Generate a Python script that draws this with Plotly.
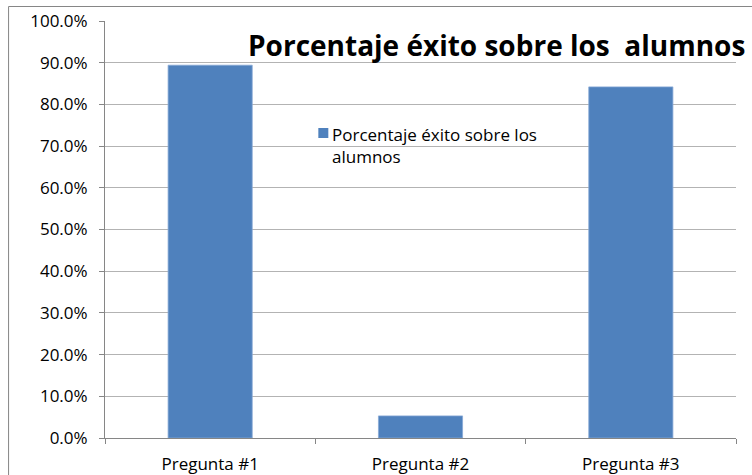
import plotly.graph_objects as go

categories = ["Pregunta #1", "Pregunta #2", "Pregunta #3"]
values = [0.894, 0.053, 0.842]
series_name = "Porcentaje éxito sobre los alumnos"
legend_label = "Porcentaje éxito sobre los<br>alumnos"
title_text = "Porcentaje éxito sobre los  alumnos"

FONT = "Open Sans"
BAR = "#4F81BD"
BAR_EDGE = "#86A8D6"
GRID = "#B3B3B3"
AXIS = "#868686"

fig = go.Figure()
fig.add_trace(go.Bar(
    x=categories, y=values, name=series_name,
    marker=dict(color=BAR, line=dict(width=0.8, color=BAR_EDGE)),
    width=0.4, showlegend=False,
))

W, H = 752, 475
l, r, t, b = 104.5, 16, 21, 37
pw, ph = W - l - r, H - t - b

def px(x):
    return (x - l) / pw

def py(y):
    return (H - b - y) / ph

fig.update_layout(
    width=W, height=H,
    margin=dict(l=l, r=r, t=t, b=b, pad=0, autoexpand=False),
    paper_bgcolor="white", plot_bgcolor="white",
    font=dict(family=FONT, size=17, color="black"),
    showlegend=False,
    xaxis=dict(
        showgrid=False, showline=True, linecolor=AXIS, linewidth=1,
        ticks="outside", ticklen=5, tickcolor=AXIS, tickson="boundaries",
        tickfont=dict(family=FONT, size=17), ticklabelstandoff=11,
        automargin=False,
    ),
    yaxis=dict(
        range=[0, 1], dtick=0.1, tickformat=".1%",
        showgrid=True, gridcolor=GRID, gridwidth=1,
        showline=True, linecolor=AXIS, linewidth=1,
        ticks="outside", ticklen=5, tickcolor=AXIS,
        tickfont=dict(family=FONT, size=17), ticklabelstandoff=8,
        zeroline=False, automargin=False,
    ),
    annotations=[
        dict(
            text="<b>" + title_text + "</b>",
            xref="paper", yref="paper", x=px(747), y=py(45),
            xanchor="right", yanchor="middle", showarrow=False,
            font=dict(family=FONT, size=28, color="black"),
        ),
        dict(
            text=legend_label, align="left",
            xref="paper", yref="paper", x=px(330), y=py(121),
            xanchor="left", yanchor="top", showarrow=False,
            font=dict(family=FONT, size=17, color="black"),
        ),
    ],
    shapes=[
        dict(type="rect", xref="paper", yref="paper",
             x0=px(318), x1=px(328), y0=py(128), y1=py(138),
             fillcolor=BAR, line=dict(width=0)),
        dict(type="line", xref="paper", yref="paper",
             x0=px(8), x1=px(760), y0=py(6.5), y1=py(6.5),
             line=dict(color=AXIS, width=1), layer="above"),
        dict(type="line", xref="paper", yref="paper",
             x0=px(8), x1=px(8), y0=py(6.5), y1=py(480),
             line=dict(color=AXIS, width=1), layer="above"),
    ],
)

fig.write_html("out.html", config={"displayModeBar": False},
               post_script="document.body.style.margin='0';")
